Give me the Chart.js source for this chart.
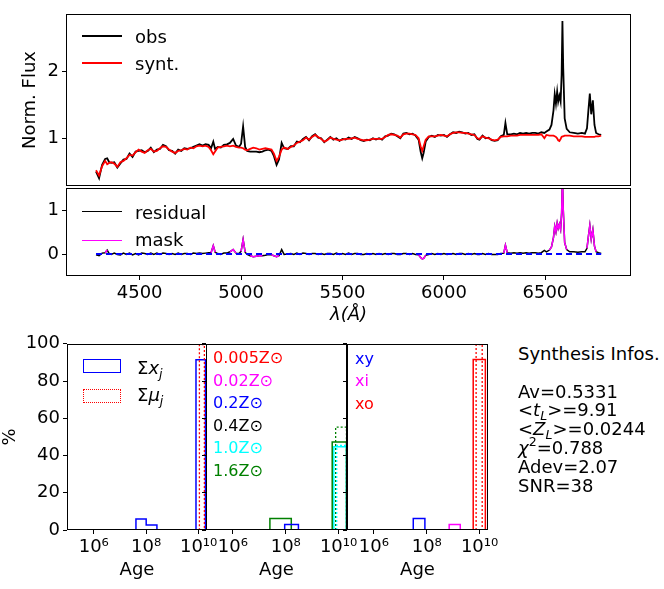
<!DOCTYPE html>
<html>
<head>
<meta charset="utf-8">
<script src="https://cdn.jsdelivr.net/npm/chart.js@4.4.0/dist/chart.umd.min.js"></script>
<style>
  body { margin: 0; background: #fff; }
  #fig { position: relative; width: 664px; height: 589px; overflow: hidden; font-family: 'DejaVu Sans', sans-serif; }
  #fig canvas { position: absolute; }
  .t { position: absolute; white-space: nowrap; line-height: 20px; font-size: 18px; color: #000; }
  .s { font-size: 16px; }
  .ln { position: absolute; left: 82px; width: 40px; height: 0; }
  .patch { position: absolute; left: 83px; width: 38px; height: 14px; box-sizing: border-box; }
  sub, sup { font-size: 70%; line-height: 0; }
  sub { vertical-align: -0.35em; }
  sup { vertical-align: 0.6em; }
</style>
</head>
<body>
<div id="fig">
  <canvas id="spec" width="664" height="200" style="left:0;top:0"></canvas>
  <canvas id="resid" width="664" height="160" style="left:0;top:170px"></canvas>
  <canvas id="ageSum" width="237" height="259" style="left:0;top:330px"></canvas>
  <canvas id="ageZ" width="176" height="259" style="left:201px;top:330px"></canvas>
  <canvas id="agePop" width="176" height="259" style="left:342px;top:330px"></canvas>

  <!-- legends -->
  <div class="ln" style="top:35px;border-top:2px solid #000"></div>
  <div class="t" style="left:135px;top:27px">obs</div>
  <div class="ln" style="top:62px;border-top:2px solid #f00"></div>
  <div class="t" style="left:135px;top:54px">synt.</div>
  <div class="ln" style="top:211px;border-top:1.5px solid #000"></div>
  <div class="t" style="left:135px;top:203px">residual</div>
  <div class="ln" style="top:240px;border-top:1.5px solid #f0f"></div>
  <div class="t" style="left:135px;top:230px">mask</div>

  <div class="patch" style="top:359px;border:1.5px solid #00f"></div>
  <div class="t" style="left:137px;top:358px">&Sigma;<i>x<sub>j</sub></i></div>
  <div class="patch" style="top:389px;border:1.5px dotted #f00"></div>
  <div class="t" style="left:137px;top:385px">&Sigma;<i>&mu;<sub>j</sub></i></div>

  <!-- metallicity labels -->
  <div class="t s" style="left:213px;top:348px;color:#f00">0.005Z&#x2299;</div>
  <div class="t s" style="left:213px;top:371px;color:#f0f">0.02Z&#x2299;</div>
  <div class="t s" style="left:213px;top:393px;color:#00f">0.2Z&#x2299;</div>
  <div class="t s" style="left:213px;top:416px;color:#000">0.4Z&#x2299;</div>
  <div class="t s" style="left:213px;top:438px;color:#0ff">1.0Z&#x2299;</div>
  <div class="t s" style="left:213px;top:461px;color:#008000">1.6Z&#x2299;</div>

  <!-- population labels -->
  <div class="t s" style="left:355px;top:349px;color:#00f">xy</div>
  <div class="t s" style="left:355px;top:371px;color:#f0f">xi</div>
  <div class="t s" style="left:355px;top:394px;color:#f00">xo</div>

  <!-- synthesis summary -->
  <div class="t" style="left:518px;top:344px">Synthesis Infos.</div>
  <div class="t" style="left:518px;top:382px">Av=0.5331</div>
  <div class="t" style="left:518px;top:400px">&lt;<i>t<sub>L</sub></i>&gt;=9.91</div>
  <div class="t" style="left:518px;top:419px">&lt;<i>Z<sub>L</sub></i>&gt;=0.0244</div>
  <div class="t" style="left:518px;top:438px"><i>&chi;</i><sup>2</sup>=0.788</div>
  <div class="t" style="left:518px;top:457px">Adev=2.07</div>
  <div class="t" style="left:518px;top:476px">SNR=38</div>
</div>

<script>
// spectrum, wavelength in Angstrom
const wave = [
  4285, 4300, 4315, 4330, 4340, 4350, 4360, 4375, 4390, 4405,
  4420, 4435, 4450, 4465, 4480, 4495, 4510, 4525, 4540, 4555,
  4570, 4585, 4600, 4615, 4630, 4645, 4660, 4675, 4690, 4705,
  4720, 4735, 4750, 4765, 4780, 4795, 4810, 4825, 4840, 4852,
  4863, 4872, 4885, 4900, 4915, 4930, 4945, 4961, 4975, 4990,
  5000, 5010, 5020, 5030, 5045, 5060, 5075, 5090, 5105, 5120,
  5135, 5150, 5162, 5175, 5187, 5200, 5212, 5230, 5245, 5260,
  5275, 5290, 5305, 5320, 5335, 5350, 5365, 5380, 5395, 5410,
  5425, 5440, 5455, 5470, 5485, 5500, 5515, 5530, 5545, 5560,
  5575, 5590, 5605, 5620, 5635, 5650, 5665, 5680, 5695, 5710,
  5725, 5740, 5755, 5770, 5785, 5800, 5815, 5830, 5845, 5860,
  5875, 5885, 5893, 5900, 5910, 5925, 5940, 5955, 5970, 5985,
  6000, 6015, 6030, 6045, 6060, 6075, 6090, 6105, 6120, 6135,
  6150, 6165, 6175, 6190, 6205, 6220, 6235, 6250, 6265, 6280,
  6295, 6303, 6312, 6330, 6345, 6360, 6375, 6390, 6405, 6420,
  6435, 6450, 6465, 6480, 6495, 6505, 6520, 6530, 6540, 6546,
  6552, 6558, 6563, 6569, 6575, 6580, 6584, 6588, 6595, 6605,
  6620, 6640, 6660, 6680, 6695, 6705, 6712, 6719, 6726, 6734,
  6742, 6750, 6762, 6775
];
const obsFlux = [
  0.50, 0.40, 0.60, 0.69, 0.70, 0.64, 0.63, 0.64, 0.56, 0.62,
  0.68, 0.69, 0.77, 0.72, 0.80, 0.81, 0.82, 0.79, 0.81, 0.86,
  0.79, 0.83, 0.84, 0.90, 0.88, 0.82, 0.81, 0.77, 0.83, 0.81,
  0.85, 0.84, 0.85, 0.87, 0.89, 0.91, 0.89, 0.91, 0.90, 0.85,
  0.95, 0.84, 0.87, 0.86, 0.90, 0.91, 0.93, 0.99, 0.89, 0.87,
  0.92, 1.18, 0.87, 0.81, 0.80, 0.80, 0.80, 0.79, 0.80, 0.82,
  0.83, 0.81, 0.73, 0.60, 0.68, 0.93, 0.85, 0.84, 0.88, 0.88,
  0.95, 0.94, 0.99, 1.02, 0.97, 1.03, 1.06, 1.01, 1.00, 0.94,
  0.98, 1.02, 0.98, 1.00, 0.96, 0.99, 0.98, 1.01, 0.99, 1.02,
  1.00, 0.97, 0.96, 0.98, 0.97, 1.00, 0.98, 1.00, 0.98, 1.03,
  1.04, 1.07, 1.06, 1.03, 1.00, 1.07, 1.08, 1.06, 1.07, 1.04,
  0.98, 0.80, 0.70, 0.78, 0.95, 1.02, 1.04, 1.02, 1.05, 1.04,
  1.05, 1.02, 1.06, 1.09, 1.08, 1.10, 1.09, 1.07, 1.08, 1.05,
  1.06, 0.99, 0.98, 1.04, 1.00, 1.01, 0.97, 0.96, 0.97, 1.03,
  1.05, 1.23, 1.06, 1.06, 1.07, 1.06, 1.08, 1.07, 1.08, 1.07,
  1.08, 1.08, 1.07, 1.09, 1.08, 1.10, 1.13, 1.20, 1.42, 1.66,
  1.52, 1.70, 1.55, 1.64, 1.55, 1.95, 2.76, 2.05, 1.30, 1.14,
  1.09, 1.08, 1.07, 1.08, 1.07, 1.15, 1.42, 1.67, 1.36, 1.57,
  1.20, 1.08, 1.06, 1.05
];
const syntFlux = [
  0.52, 0.44, 0.58, 0.66, 0.61, 0.63, 0.64, 0.62, 0.57, 0.64,
  0.66, 0.70, 0.75, 0.74, 0.79, 0.83, 0.80, 0.78, 0.82, 0.84,
  0.80, 0.81, 0.85, 0.88, 0.87, 0.83, 0.80, 0.78, 0.81, 0.82,
  0.84, 0.83, 0.86, 0.85, 0.88, 0.89, 0.88, 0.89, 0.87, 0.82,
  0.76, 0.80, 0.86, 0.87, 0.88, 0.89, 0.88, 0.89, 0.87, 0.86,
  0.86, 0.85, 0.83, 0.82, 0.84, 0.86, 0.85, 0.83, 0.84, 0.85,
  0.84, 0.83, 0.77, 0.66, 0.72, 0.83, 0.86, 0.84, 0.87, 0.89,
  0.93, 0.95, 0.97, 1.01, 0.98, 1.02, 1.05, 1.02, 0.99, 0.95,
  0.97, 1.01, 0.99, 0.98, 0.97, 0.98, 0.99, 0.99, 1.00, 1.01,
  0.99, 0.98, 0.97, 0.97, 0.98, 0.99, 0.99, 0.99, 0.99, 1.02,
  1.05, 1.06, 1.05, 1.04, 1.01, 1.06, 1.07, 1.07, 1.06, 1.05,
  1.00, 0.88, 0.81, 0.88, 0.98, 1.03, 1.03, 1.03, 1.04, 1.05,
  1.04, 1.03, 1.06, 1.08, 1.09, 1.09, 1.08, 1.08, 1.07, 1.06,
  1.05, 1.00, 0.99, 1.03, 1.01, 1.00, 0.98, 0.97, 0.98, 1.02,
  1.03, 1.03, 1.03, 1.04, 1.04, 1.04, 1.05, 1.05, 1.05, 1.05,
  1.05, 1.05, 1.05, 1.06, 1.00, 1.05, 1.04, 1.04, 1.04, 1.03,
  1.02, 1.00, 0.97, 0.96, 0.99, 1.02, 1.03, 1.03, 1.04, 1.04,
  1.04, 1.03, 1.03, 1.03, 1.02, 1.02, 1.02, 1.02, 1.02, 1.02,
  1.02, 1.03, 1.03, 1.04
];
// masked wavelength windows [from, to]
const maskRanges = [
  [4325, 4345], [4852, 4872], [4945, 4975], [5000, 5020], [5045, 5105],
  [5150, 5187], [5875, 5910], [6295, 6312], [6520, 6605], [6705, 6750]
];

const waveTicks = [4500, 5000, 5500, 6000, 6500];
const fluxTicks = [1, 2];
const residTicks = [0, 1];
const pctTicks = [0, 20, 40, 60, 80, 100];
const ageTickExp = [6, 8, 10];

// age histograms: bin edges in log10(age/yr), heights in %
const sumXEdges = [7.61, 8.00, 8.41, 9.90, 10.26];
const sumXPct = [5.9, 2.7, 0, 91.5];
const sumMuEdges = [7.61, 8.00, 8.41, 10.03, 10.22];
const sumMuPct = [0.2, 0.1, 0, 99.6];

const z16XEdges = [7.40, 8.21, 9.76, 10.30];
const z16XPct = [6.2, 0, 47.3];
const z16MuEdges = [9.89, 10.30];
const z16MuPct = [55.3];
const z10XEdges = [9.82, 10.30];
const z10XPct = [44.7];
const z10MuEdges = [9.93, 10.30];
const z10MuPct = [45.5];
const z02XEdges = [7.96, 8.48];
const z02XPct = [3.0];

const xyEdges = [7.49, 7.93];
const xyPct = [6.2];
const xiEdges = [8.85, 9.27];
const xiPct = [3.0];
const xoEdges = [9.76, 10.22];
const xoPct = [91.6];
const muOEdges = [9.87, 10.10];
const muOPct = [99.6];

Chart.defaults.font.family = "'DejaVu Sans', sans-serif";
Chart.defaults.font.size = 18;
Chart.defaults.color = '#000';

// black box round every plot area, like matplotlib spines
const frame = {
  id: 'frame',
  afterDraw(chart) {
    const { ctx, chartArea: a } = chart;
    ctx.save();
    ctx.strokeStyle = '#000';
    ctx.lineWidth = 1;
    ctx.strokeRect(Math.round(a.left) + 0.5, Math.round(a.top) + 0.5,
      Math.round(a.right - a.left) - 1, Math.round(a.bottom - a.top) - 1);
    ctx.restore();
  }
};

const tickGrid = { display: true, drawOnChartArea: false, drawTicks: true, tickLength: 4, color: '#000' };
const noBorder = { display: false };

function common(padding) {
  return {
    responsive: false,
    animation: false,
    layout: { padding },
    plugins: { legend: { display: false }, tooltip: { enabled: false } },
    elements: { point: { radius: 0 }, line: { tension: 0 } }
  };
}

const pts = ys => wave.map((w, i) => ({ x: w, y: ys[i] }));
const residual = wave.map((w, i) => ({ x: w, y: Math.round((obsFlux[i] - syntFlux[i]) * 1000) / 1000 }));
const inMask = w => maskRanges.some(([a, b]) => w >= a && w <= b);

// top: observed vs synthetic spectrum
new Chart(document.getElementById('spec'), {
  type: 'line',
  data: {
    datasets: [
      { label: 'obs', data: pts(obsFlux), borderColor: '#000', borderWidth: 1.8, order: 2 },
      { label: 'synt.', data: pts(syntFlux), borderColor: '#f00', borderWidth: 1.8, order: 1 }
    ]
  },
  options: {
    ...common({ top: 12, right: 33, left: 0, bottom: 0 }),
    scales: {
      x: {
        type: 'linear', min: 4137, max: 6922,
        afterFit: s => { s.height = 12; },
        ticks: { display: false }, grid: { display: false }, border: noBorder
      },
      y: {
        min: 0.28, max: 2.87,
        afterFit: s => { s.width = 66; },
        afterBuildTicks: s => { s.ticks = fluxTicks.map(v => ({ value: v })); },
        grid: tickGrid, border: noBorder,
        title: { display: true, text: 'Norm. Flux', padding: { top: 20, bottom: 0 } }
      }
    }
  },
  plugins: [frame]
});

// middle: residual and masked pixels
new Chart(document.getElementById('resid'), {
  type: 'line',
  data: {
    datasets: [
      { label: 'residual', data: residual, borderColor: '#000', borderWidth: 1.5, order: 3 },
      { label: 'zero', data: [{ x: wave[0], y: 0 }, { x: wave[wave.length - 1], y: 0 }],
        borderColor: '#00f', borderWidth: 2, borderDash: [6, 4], order: 2 },
      { label: 'mask', data: residual.map(p => ({ x: p.x, y: inMask(p.x) ? p.y : null })),
        borderColor: '#f0f', borderWidth: 1.5, order: 1 }
    ]
  },
  options: {
    ...common({ top: 18, right: 33, left: 0, bottom: 0 }),
    scales: {
      x: {
        type: 'linear', min: 4137, max: 6922,
        afterFit: s => { s.height = 54; },
        afterBuildTicks: s => { s.ticks = waveTicks.map(v => ({ value: v })); },
        ticks: { maxRotation: 0, autoSkip: false, callback: v => String(v) },
        grid: tickGrid, border: noBorder,
        title: { display: true, text: 'λ(Å)', font: { style: 'italic' }, padding: { top: 0, bottom: 4 } }
      },
      y: {
        min: -0.5, max: 1.5,
        afterFit: s => { s.width = 66; },
        afterBuildTicks: s => { s.ticks = residTicks.map(v => ({ value: v })); },
        grid: tickGrid, border: noBorder
      }
    }
  },
  plugins: [frame]
});

// bottom: age distributions
const SUP = { '0': '⁰', '1': '¹', '2': '²', '3': '³', '4': '⁴', '5': '⁵', '6': '⁶', '7': '⁷', '8': '⁸', '9': '⁹' };
const supNum = n => String(n).split('').map(c => SUP[c]).join('');

function stepOutline(edges, heights) {
  const out = [{ x: 10 ** edges[0], y: 0 }];
  heights.forEach((h, i) => {
    out.push({ x: 10 ** edges[i], y: h }, { x: 10 ** edges[i + 1], y: h });
  });
  out.push({ x: 10 ** edges[edges.length - 1], y: 0 });
  return out;
}

function hist(edges, heights, color, dotted, order) {
  return {
    data: stepOutline(edges, heights),
    borderColor: color,
    borderWidth: dotted ? 1.3 : 1.5,
    borderDash: dotted ? [2, 2] : [],
    order
  };
}

function agePanel(id, yWidth, showPct, datasets) {
  new Chart(document.getElementById(id), {
    type: 'line',
    data: { datasets },
    options: {
      ...common({ top: 12, right: 30, left: 0, bottom: 0 }),
      scales: {
        x: {
          type: 'logarithmic', min: 10 ** 4.98, max: 10 ** 10.32,
          afterFit: s => { s.height = 59; },
          afterBuildTicks: s => { s.ticks = ageTickExp.map(p => ({ value: 10 ** p })); },
          ticks: { autoSkip: false, maxRotation: 0, callback: v => '10' + supNum(Math.round(Math.log10(v))) },
          grid: tickGrid, border: noBorder,
          title: { display: true, text: 'Age', padding: { top: 0, bottom: 8 } }
        },
        y: {
          min: 0, max: 100,
          afterFit: s => { s.width = yWidth; },
          afterBuildTicks: s => { s.ticks = pctTicks.map(v => ({ value: v })); },
          ticks: { callback: v => (showPct ? String(v) : '') },
          grid: tickGrid, border: noBorder,
          title: { display: showPct, text: '%', padding: { top: 0, bottom: 0 } }
        }
      }
    },
    plugins: [frame]
  });
}

agePanel('ageSum', 67, true, [
  hist(sumXEdges, sumXPct, '#00f', false, 2),
  hist(sumMuEdges, sumMuPct, '#f00', true, 1)
]);

agePanel('ageZ', 5, false, [
  hist(z16XEdges, z16XPct, '#008000', false, 5),
  hist(z02XEdges, z02XPct, '#00f', false, 4),
  hist(z10XEdges, z10XPct, '#0ff', false, 3),
  hist(z16MuEdges, z16MuPct, '#008000', true, 2),
  hist(z10MuEdges, z10MuPct, '#0ff', true, 1)
]);

agePanel('agePop', 5, false, [
  hist(xyEdges, xyPct, '#00f', false, 4),
  hist(xiEdges, xiPct, '#f0f', false, 3),
  hist(xoEdges, xoPct, '#f00', false, 2),
  hist(muOEdges, muOPct, '#f00', true, 1)
]);
</script>
</body>
</html>
